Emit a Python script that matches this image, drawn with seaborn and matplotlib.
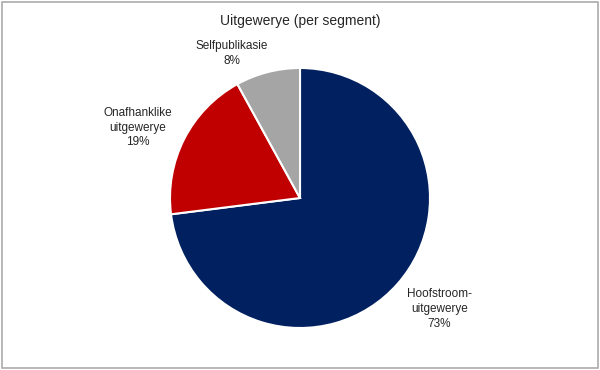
import matplotlib
matplotlib.use("Agg")
import matplotlib.pyplot as plt
import seaborn as sns
import numpy as np

categories = ["Hoofstroom-\nuitgewerye", "Onafhanklike\nuitgewerye", "Selfpublikasie"]
values = [73, 19, 8]
colors = ["#002060", "#C00000", "#A5A5A5"]
title = "Uitgewerye (per segment)"

sns.set_theme(style="white")
plt.rcParams["font.family"] = ["Liberation Sans", "DejaVu Sans"]

fig = plt.figure(figsize=(6, 3.7), dpi=100)
fig.patch.set_facecolor("white")
# outer border
fig.patches.append(plt.Rectangle((0.004, 0.006), 0.992, 0.988, transform=fig.transFigure,
                                 fill=False, edgecolor="#ABABAB", linewidth=1.2))

ax = fig.add_axes([170/600, 42/370, 260/600, 260/370])
wedges, texts = ax.pie(values, colors=colors, startangle=90, counterclock=False,
                       labels=[f"{c}\n{v}%" for c, v in zip(categories, values)],
                       labeldistance=1.4,
                       wedgeprops=dict(edgecolor="white", linewidth=1.5),
                       textprops=dict(fontsize=8.5, color="#262626", ha="center", va="center",
                                      multialignment="center", linespacing=1.3))
# label placement (distance, angle offset in degrees) per label
adj = [(1.37, 2.8), (1.36, 3.6), (1.23, 10.7)]
for w, t, (d, off) in zip(wedges, texts, adj):
    ang = np.deg2rad((w.theta1 + w.theta2) / 2 + off)
    t.set_position((d * np.cos(ang), d * np.sin(ang)))
    t.set_ha("center")
ax.set_aspect("equal")
ax.set_xlim(-1, 1)
ax.set_ylim(-1, 1)
ax.axis("off")

fig.text(0.5, 1 - 21/370, title, ha="center", va="center", fontsize=10, color="#262626")

fig.savefig("out.png", dpi=100, facecolor="white")
